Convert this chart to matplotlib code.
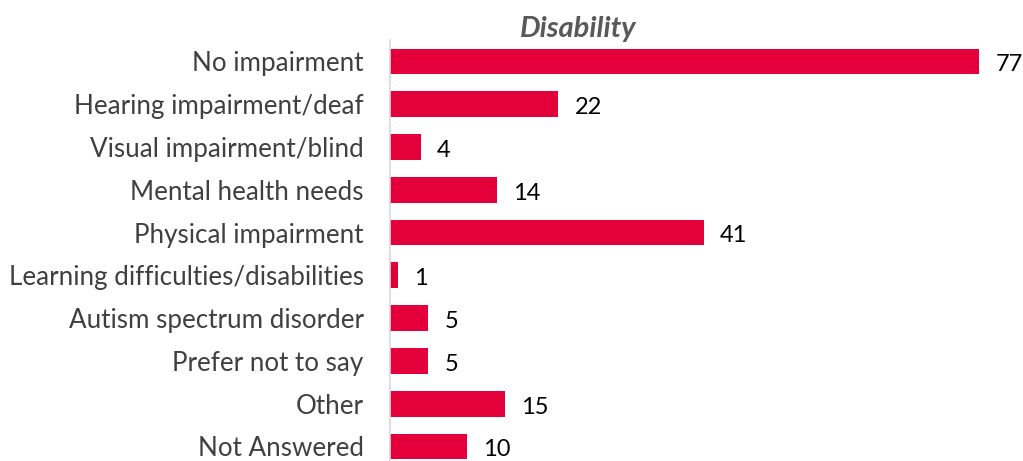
import matplotlib.pyplot as plt

categories = ["No impairment", "Hearing impairment/deaf", "Visual impairment/blind",
              "Mental health needs", "Physical impairment",
              "Learning difficulties/disabilities", "Autism spectrum disorder",
              "Prefer not to say", "Other", "Not Answered"]
counts = [77, 22, 4, 14, 41, 1, 5, 5, 15, 10]

plt.rcParams['font.family'] = ['Lato', 'DejaVu Sans']

fig = plt.figure(figsize=(10.23, 4.61), dpi=100)
ax = fig.add_axes([390/1023, 0, 620/1023, (461-40)/461])

y = list(range(len(categories)))
ax.barh(y, counts, height=0.6, color='#E4003A')
for yi, v in zip(y, counts):
    ax.text(v + 2.1, yi + 0.08, str(v), va='center', ha='left', fontsize=17, color='black')

ax.set_xlim(0, 81)
ax.set_ylim(9.34, -0.5)
ax.set_yticks(y)
ax.set_yticklabels(categories, fontsize=18.7, color='#404040')
ax.tick_params(axis='y', length=0, pad=19)
ax.set_xticks([])
for s in ['top', 'right', 'bottom']:
    ax.spines[s].set_visible(False)
ax.spines['left'].set_color('#D9D9D9')
ax.spines['left'].set_linewidth(1.2)

fig.text(578/1023, 1 - 29/461, "Disability", ha='center', va='center',
         fontsize=21, fontweight='bold', fontstyle='italic', color='#595959')

fig.savefig('out.png', dpi=100)
